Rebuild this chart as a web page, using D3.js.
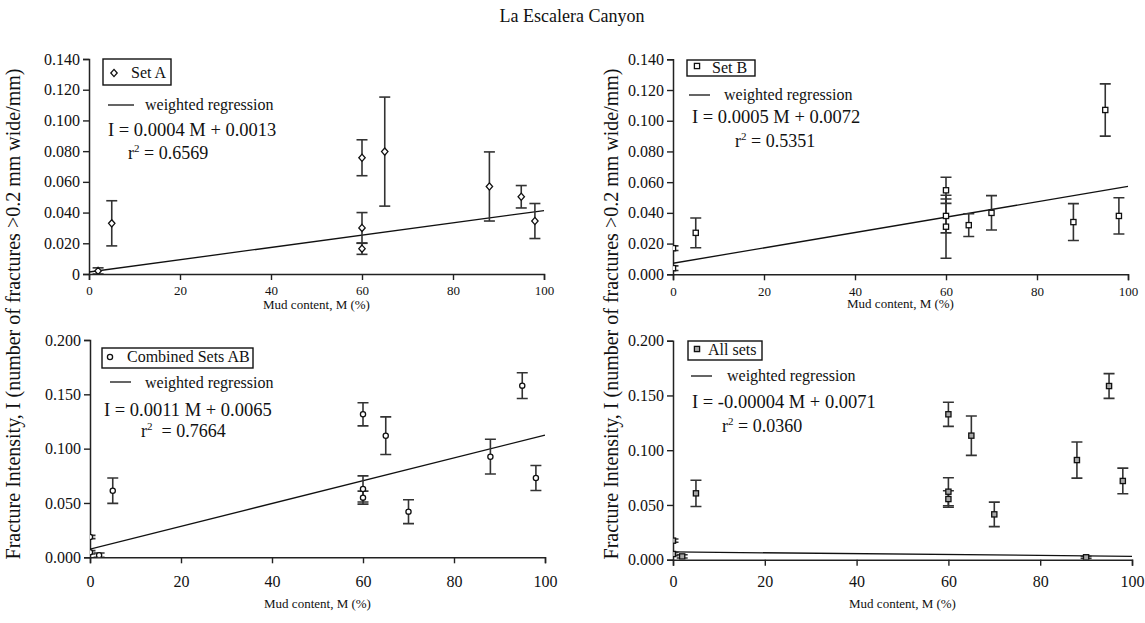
<!DOCTYPE html>
<html>
<head>
<meta charset="utf-8">
<script src="https://cdn.jsdelivr.net/npm/d3@7"></script>
<style>
  html, body { margin: 0; padding: 0; background: #fff; }
  svg text { font-family: "Liberation Serif", "Times New Roman", Times, serif; fill: #111; }
</style>
</head>
<body>
<svg id="chart" width="1145" height="623"></svg>
<script>
// ---------- DATA ----------
const chartTitle = "La Escalera Canyon";
const xTitle = "Mud content, M (%)";
const yTitle = "Fracture Intensity, I (number of fractures >0.2 mm wide/mm)";

const xTicks = [0, 20, 40, 60, 80, 100];
const yTicksTop = [0, 0.02, 0.04, 0.06, 0.08, 0.10, 0.12, 0.14];
const yTickLabelsA = ["0", "0.020", "0.040", "0.060", "0.080", "0.100", "0.120", "0.140"];
const yTickLabelsB = ["0.000", "0.020", "0.040", "0.060", "0.080", "0.100", "0.120", "0.140"];
const yTicksBottom = [0, 0.05, 0.10, 0.15, 0.20];
const yTickLabelsBottom = ["0.000", "0.050", "0.100", "0.150", "0.200"];

// Set A
const setA_M = [2, 5, 60, 60, 60, 65, 88, 95, 98];
const setA_I = [0.002, 0.033, 0.0757, 0.030, 0.0165, 0.0797, 0.057, 0.0503, 0.0345];
const setA_E = [0.002, 0.0147, 0.0117, 0.010, 0.0037, 0.0355, 0.0225, 0.0073, 0.0114];
const regA = [0.0013, 0.0413]; // I at M=0 and M=100

// Set B
const setB_M = [0, 0, 5, 60, 60, 60, 65, 70, 88, 95, 98];
const setB_I = [0.017, 0.004, 0.027, 0.0547, 0.038, 0.031, 0.032, 0.040, 0.034, 0.107, 0.038];
const setB_E = [0.0015, 0.0015, 0.0097, 0.0085, 0.011, 0.0205, 0.0074, 0.0112, 0.012, 0.017, 0.0118];
const regB = [0.0072, 0.0572];

// Combined Sets AB
const setAB_M = [0, 0, 2, 5, 60, 60, 60, 65, 70, 88, 95, 98];
const setAB_I = [0.0187, 0.0046, 0.002, 0.0613, 0.1316, 0.0629, 0.0549, 0.1119, 0.042, 0.0926, 0.158, 0.073];
const setAB_E = [0.0015, 0.0015, 0.002, 0.0117, 0.0106, 0.012, 0.006, 0.0173, 0.011, 0.016, 0.0118, 0.0115];
const regAB = [0.0075, 0.1125];

// All sets
const all_M = [0, 0, 2, 5, 60, 60, 60, 65, 70, 88, 90, 95, 98];
const all_I = [0.0174, 0.0052, 0.003, 0.0606, 0.1328, 0.0621, 0.0554, 0.1133, 0.0414, 0.091, 0.0022, 0.1586, 0.0719];
const all_E = [0.0015, 0.0015, 0.0015, 0.012, 0.011, 0.0128, 0.0075, 0.018, 0.0112, 0.0165, 0.001, 0.0113, 0.0117];
const regAll = [0.0071, 0.0031];

// ---------- DRAW ----------
const svg = d3.select("#chart");
const FONT = '"Liberation Serif", "Times New Roman", Times, serif';

svg.append("text").attr("x", 572).attr("y", 22).attr("text-anchor", "middle")
  .style("font-size", "18px").text(chartTitle);

[20, 618].forEach(x => {
  svg.append("text").attr("transform", `translate(${x},314) rotate(-90)`)
    .attr("text-anchor", "middle").style("font-size", "20px").text(yTitle);
});

const panels = [
  { id: "A", M: setA_M, I: setA_I, E: setA_E, reg: regA, x0: 89, x1: 544, yb: 274, yt: 59, ymax: 0.14,
    yticks: yTicksTop, ylabels: yTickLabelsA, marker: "diamond", fill: "#fff",
    xLabelSize: 13, xLabelY: 20, xTitleY: 35,
    legend: { box: [103, 59, 68, 26], mk: [114, 73], txt: [131, 78], label: "Set A" },
    regLeg: { line: [108, 134, 105], txt: [145, 110] },
    eq: { x: 108, y: 136, t: "I = 0.0004 M + 0.0013" }, r2: { x: 128, y: 159, v: "0.6569", sp: " " } },
  { id: "B", M: setB_M, I: setB_I, E: setB_E, reg: regB, x0: 673, x1: 1128, yb: 274.3, yt: 59.3, ymax: 0.14,
    yticks: yTicksTop, ylabels: yTickLabelsB, marker: "square", fill: "#fff",
    xLabelSize: 13, xLabelY: 20, xTitleY: 34,
    legend: { box: [687, 60, 68, 16], mk: [697, 66], txt: [712, 73], label: "Set B" },
    regLeg: { line: [689, 710, 95], txt: [724, 100] },
    eq: { x: 692, y: 123, t: "I = 0.0005 M + 0.0072" }, r2: { x: 735, y: 147, v: "0.5351", sp: " " } },
  { id: "C", M: setAB_M, I: setAB_I, E: setAB_E, reg: regAB, x0: 90, x1: 545, yb: 557.3, yt: 340, ymax: 0.2,
    yticks: yTicksBottom, ylabels: yTickLabelsBottom, marker: "circle", fill: "#fff",
    xLabelSize: 16, xLabelY: 26, xTitleY: 51,
    legend: { box: [102, 348, 151, 20], mk: [110, 357], txt: [127, 362], label: "Combined Sets AB" },
    regLeg: { line: [110, 131, 382], txt: [145, 388] },
    eq: { x: 104, y: 416, t: "I = 0.0011 M + 0.0065" }, r2: { x: 141, y: 437, v: "0.7664", sp: "  " } },
  { id: "D", M: all_M, I: all_I, E: all_E, reg: regAll, x0: 673, x1: 1132, yb: 559.7, yt: 340.7, ymax: 0.2,
    yticks: yTicksBottom, ylabels: yTickLabelsBottom, marker: "square", fill: "#a8a8a8",
    xLabelSize: 16, xLabelY: 24, xTitleY: 48,
    legend: { box: [688, 341, 74, 19], mk: [697, 349], txt: [708, 355], label: "All sets" },
    regLeg: { line: [691, 712, 376], txt: [727, 381] },
    eq: { x: 692, y: 408, t: "I = -0.00004 M + 0.0071" }, r2: { x: 722, y: 432, v: "0.0360", sp: " " } }
];

function drawMarker(g, type, cx, cy, fill) {
  if (type === "diamond") {
    g.append("path").attr("d", `M${cx},${cy-3.6}L${cx+3.2},${cy}L${cx},${cy+3.6}L${cx-3.2},${cy}Z`)
      .attr("fill", fill).attr("stroke", "#111").attr("stroke-width", 1.3);
  } else if (type === "square") {
    g.append("rect").attr("x", cx - 2.6).attr("y", cy - 2.6).attr("width", 5.2).attr("height", 5.2)
      .attr("fill", fill).attr("stroke", "#111").attr("stroke-width", 1.3);
  } else {
    g.append("circle").attr("cx", cx).attr("cy", cy).attr("r", 2.6)
      .attr("fill", fill).attr("stroke", "#111").attr("stroke-width", 1.3);
  }
}

panels.forEach(p => {
  const x = d3.scaleLinear().domain([0, 100]).range([p.x0, p.x1]);
  const y = d3.scaleLinear().domain([0, p.ymax]).range([p.yb, p.yt]);
  const g = svg.append("g");

  const cid = "clip" + p.id;
  svg.append("clipPath").attr("id", cid).append("rect")
    .attr("x", p.x0).attr("y", p.yt - 30).attr("width", p.x1 - p.x0 + 20).attr("height", p.yb - p.yt + 30);

  const ya = g.append("g").attr("transform", `translate(${p.x0},0)`)
    .call(d3.axisLeft(y).tickValues(p.yticks).tickFormat((d, i) => p.ylabels[i]).tickSize(6).tickPadding(3));
  ya.selectAll("text").style("font-size", "16px").style("font-family", FONT).attr("fill", "#111");
  const xa = g.append("g").attr("transform", `translate(0,${p.yb})`)
    .call(d3.axisBottom(x).tickValues(xTicks).tickSize(6).tickPadding(p.xLabelY - 14));
  xa.selectAll("text").style("font-size", p.xLabelSize + "px").style("font-family", FONT).attr("fill", "#111");
  [ya, xa].forEach(a => {
    a.select(".domain").attr("stroke", "#222").attr("stroke-width", 1.5);
    a.selectAll(".tick line").attr("stroke", "#222").attr("stroke-width", 1.4);
  });

  g.append("text").attr("x", (p.x0 + p.x1) / 2).attr("y", p.yb + p.xTitleY)
    .attr("text-anchor", "middle").style("font-size", "13px").text(xTitle);

  const pg = g.append("g").attr("clip-path", `url(#${cid})`);

  pg.append("line").attr("x1", x(0)).attr("x2", x(100)).attr("y1", y(p.reg[0])).attr("y2", y(p.reg[1]))
    .attr("stroke", "#111").attr("stroke-width", 1.3);

  p.M.forEach((m, i) => {
    const cx = x(m), lo = y(p.I[i] - p.E[i]), hi = y(p.I[i] + p.E[i]);
    pg.append("line").attr("x1", cx).attr("x2", cx).attr("y1", lo).attr("y2", hi)
      .attr("stroke", "#333").attr("stroke-width", 1.6);
    [lo, hi].forEach(yy => pg.append("line").attr("x1", cx - 5.5).attr("x2", cx + 5.5)
      .attr("y1", yy).attr("y2", yy).attr("stroke", "#333").attr("stroke-width", 1.6));
  });
  p.M.forEach((m, i) => drawMarker(pg, p.marker, x(m), y(p.I[i]), p.fill));

  const L = p.legend;
  g.append("rect").attr("x", L.box[0]).attr("y", L.box[1]).attr("width", L.box[2]).attr("height", L.box[3])
    .attr("fill", "#fff").attr("stroke", "#111").attr("stroke-width", 1.4);
  drawMarker(g, p.marker, L.mk[0], L.mk[1], p.fill);
  g.append("text").attr("x", L.txt[0]).attr("y", L.txt[1]).style("font-size", "16px").text(L.label);

  const R = p.regLeg;
  g.append("line").attr("x1", R.line[0]).attr("x2", R.line[1]).attr("y1", R.line[2]).attr("y2", R.line[2])
    .attr("stroke", "#111").attr("stroke-width", 1.3);
  g.append("text").attr("x", R.txt[0]).attr("y", R.txt[1]).style("font-size", "16px").text("weighted regression");

  g.append("text").attr("x", p.eq.x).attr("y", p.eq.y).style("font-size", "18.5px").text(p.eq.t);
  const r2 = g.append("text").attr("x", p.r2.x).attr("y", p.r2.y).style("font-size", "18px").attr("xml:space", "preserve");
  r2.append("tspan").text("r");
  r2.append("tspan").attr("dy", -7).style("font-size", "11px").text("2");
  r2.append("tspan").attr("dy", 7).text(p.r2.sp + "= " + p.r2.v);
});
</script>
</body>
</html>
